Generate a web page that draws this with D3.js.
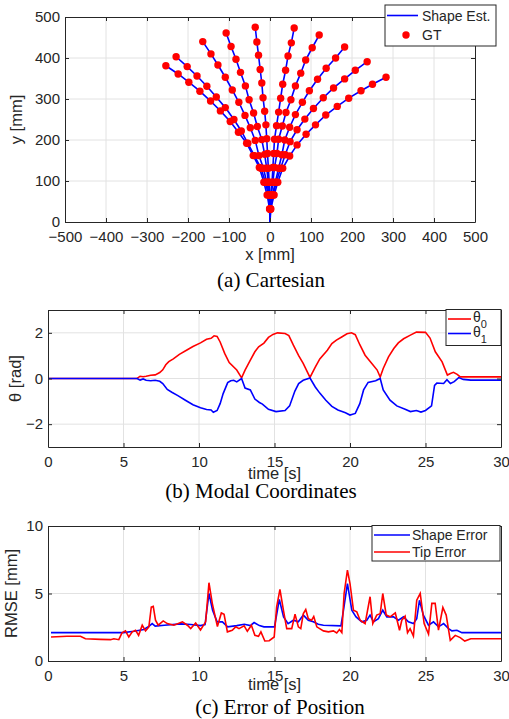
<!DOCTYPE html>
<html>
<head>
<meta charset="utf-8">
<script src="https://cdn.jsdelivr.net/npm/d3@7"></script>
<style>
  body { margin: 0; background: #fff; }
  text { font-family: "Liberation Sans", Arial, sans-serif; fill: #262626; }
  .cap { font-family: "Liberation Serif", "Times New Roman", serif; fill: #000; }
</style>
</head>
<body>
<svg id="fig" width="509" height="719"></svg>
<script>
// ---- (a) Cartesian: GT points per shape, tip first [x mm, y mm]
const base = [0, 0];
const shape1 = [[-254,381],[-224,361],[-198,341],[-171,319],[-145,295],[-121,271],[-97,245],[-77,219],[-57,192],[-41,162],[-26,133],[-15,97],[-7,66],[-1,32]];
const shape2 = [[-229,403],[-202,379],[-178,356],[-154,331],[-131,305],[-109,279],[-88,250],[-70,222],[-54,192],[-38,162],[-22,131],[-11,97],[-4,66],[0,32]];
const shape3 = [[-164,440],[-144,410],[-127,383],[-109,353],[-92,322],[-76,292],[-61,260],[-48,230],[-36,199],[-27,162],[-16,131],[-8,97],[-2,66],[0,32]];
const shape4 = [[-107,461],[-95,428],[-83,397],[-72,365],[-60,332],[-51,298],[-40,266],[-31,233],[-20,201],[-13,165],[-8,131],[-4,97],[-1,66],[0,32]];
const shape5 = [[-36,475],[-32,439],[-28,407],[-24,372],[-20,339],[-17,303],[-13,270],[-10,237],[-8,203],[-6,167],[-4,131],[-2,97],[0,66],[0,32]];
const shape6 = [[59,473],[52,437],[44,405],[38,370],[31,336],[26,302],[21,268],[16,235],[11,202],[9,167],[7,133],[5,97],[2,66],[0,32]];
const shape7 = [[120,456],[103,425],[87,395],[75,363],[62,332],[51,298],[39,267],[30,234],[21,202],[17,167],[11,133],[7,97],[3,66],[0,32]];
const shape8 = [[182,427],[160,400],[137,375],[116,348],[96,320],[79,292],[62,262],[48,231],[36,200],[29,164],[21,131],[13,97],[6,66],[1,32]];
const shape9 = [[237,391],[208,370],[182,349],[155,327],[130,303],[106,277],[85,251],[66,225],[49,196],[37,164],[26,131],[15,97],[8,66],[1,32]];
const shape10 = [[283,353],[250,336],[222,320],[192,302],[164,282],[136,261],[111,237],[88,214],[66,188],[48,161],[31,131],[19,97],[10,66],[2,32]];
const shapes = [shape1, shape2, shape3, shape4, shape5, shape6, shape7, shape8, shape9, shape10];
const cartTicksX = [-500,-400,-300,-200,-100,0,100,200,300,400,500];
const cartTicksY = [0,100,200,300,400,500];

// ---- (b) Modal coordinates [s, rad]
const time0  = [0,5.9,6.1,6.3,6.5,6.8,7.1,7.4,7.6,7.8,8.0,8.3,8.7,9.2,9.6,10.1,10.5,10.8,11.0,11.2,11.4,11.7,12.0,12.5,12.82,13.05,13.4,13.7,13.95,14.3,14.6,14.9,15.2,15.7,15.95,16.25,16.6,16.9,17.35,17.7,18.0,18.5,18.8,19.1,19.45,19.8,20.1,20.35,20.65,21.0,21.35,21.8,22.0,22.2,22.55,22.9,23.2,23.55,24.0,24.4,25.0,25.3,25.65,26.1,26.45,26.65,26.85,27.1,27.3,27.8,30];
const theta0 = [0,0,0.1,0.08,0.1,0.14,0.16,0.26,0.38,0.6,0.74,0.86,1.06,1.25,1.4,1.56,1.72,1.76,1.87,1.84,1.6,1.1,0.7,0.37,0.03,0.37,0.8,1.17,1.39,1.55,1.8,1.93,2.0,1.97,1.88,1.46,1.0,0.66,0.05,0.5,0.86,1.24,1.53,1.68,1.82,1.96,2.0,1.92,1.48,1.02,0.73,0.37,0.06,0.44,0.95,1.31,1.56,1.74,1.9,2.03,2.02,1.77,1.17,0.73,0.15,0.22,0.27,0.18,0.07,0.07,0.07];
const time1  = [0,5.9,6.1,6.3,6.5,6.8,7.1,7.4,7.6,7.9,8.2,8.6,9.1,9.6,10.1,10.5,10.8,10.95,11.2,11.4,11.6,11.9,12.1,12.3,12.5,12.82,13.05,13.4,13.7,14.0,14.2,14.6,15.1,15.7,16.0,16.35,16.6,16.9,17.35,17.7,18.0,18.4,18.8,19.2,19.7,20.0,20.35,20.65,20.9,21.2,21.7,22.0,22.2,22.65,23.1,23.65,24.0,24.4,24.7,25.0,25.4,25.6,25.75,26.2,26.42,26.65,26.9,27.2,27.5,28.0,30];
const theta1 = [0,0,-0.07,-0.02,-0.08,-0.1,-0.08,-0.12,-0.22,-0.48,-0.6,-0.75,-0.95,-1.15,-1.28,-1.36,-1.38,-1.48,-1.4,-1.1,-0.66,-0.18,-0.1,-0.08,-0.15,0,-0.42,-0.5,-0.9,-1.05,-1.12,-1.35,-1.45,-1.4,-1.2,-0.55,-0.22,-0.08,0.02,-0.37,-0.64,-0.95,-1.22,-1.38,-1.5,-1.6,-1.53,-1.1,-0.5,-0.17,-0.1,0,-0.5,-0.95,-1.2,-1.35,-1.45,-1.4,-1.47,-1.4,-1.2,-0.3,-0.2,-0.22,-0.05,-0.22,-0.14,0.04,-0.04,-0.07,-0.07];
const modalTicksX = [0,5,10,15,20,25,30];
const modalTicksY = [-2,0,2];

// ---- (c) Error of position [s, mm]
const timeShape = [0.2,5.0,5.7,6.35,6.7,6.9,7.1,7.7,8.8,9.45,10.1,10.4,10.66,10.9,11.2,11.55,11.9,12.5,13.0,13.4,13.65,14.0,14.3,15.0,15.32,15.6,15.9,16.25,16.58,16.91,17.24,17.57,17.9,18.24,19.4,19.57,19.83,20.12,20.4,20.78,21.11,21.33,21.55,21.88,22.17,22.44,22.88,23.21,23.54,23.87,24.2,24.42,24.6,24.86,25.2,25.53,25.86,26.2,26.53,26.75,27.08,27.41,30];
const shapeErr  = [2.1,2.1,2.2,2.33,2.58,2.77,2.58,2.65,2.75,2.7,2.62,2.7,5.0,3.76,2.9,2.9,2.53,2.62,2.72,2.62,2.85,2.62,2.53,2.53,4.56,3.27,2.77,3.02,2.9,3.4,3.02,2.9,2.72,2.65,2.6,3.76,5.74,3.76,3.27,2.9,3.02,3.4,2.9,3.14,3.76,3.27,3.27,3.02,3.27,2.9,2.77,3.14,4.5,3.4,2.65,2.9,2.53,2.77,2.4,2.23,2.28,2.1,2.1];
const timeTip = [0.2,1.26,2.15,2.48,3.47,4.14,4.36,4.69,4.9,5.13,5.35,5.58,5.8,6.0,6.24,6.46,6.68,6.84,6.97,7.12,7.3,7.63,7.9,8.34,8.9,9.23,9.45,9.78,10.1,10.44,10.66,10.88,11.22,11.48,11.66,11.88,12.2,12.43,12.65,12.99,13.2,13.47,13.7,13.94,14.1,14.36,14.65,14.98,15.14,15.36,15.59,15.81,16.14,16.36,16.58,16.74,16.91,17.07,17.24,17.46,17.6,17.8,18.24,18.57,18.9,19.12,19.3,19.46,19.61,19.83,20.0,20.23,20.45,20.67,21.0,21.33,21.51,21.77,22.0,22.17,22.4,22.66,23.0,23.28,23.43,23.65,23.81,23.98,24.2,24.42,24.65,24.91,25.2,25.42,25.64,25.86,26.15,26.37,26.64,26.97,27.3,27.6,28.0,30];
const tipErr  = [1.78,1.83,1.83,1.65,1.6,1.58,1.65,1.58,2.08,2.23,1.78,2.16,2.28,1.9,2.65,2.23,2.53,4.0,4.05,3.02,2.65,2.97,2.77,2.65,2.9,2.65,2.4,2.82,2.3,2.9,5.8,4.27,2.55,3.56,3.46,2.16,2.28,2.53,2.4,2.6,2.2,2.65,1.9,1.83,2.16,1.48,1.5,1.78,4.0,5.3,3.76,2.4,2.4,3.46,2.53,2.4,3.51,3.81,3.14,3.02,3.3,2.53,2.23,2.16,2.23,2.08,2.33,2.1,5.0,6.73,5.74,3.76,3.64,3.02,2.77,4.76,2.77,3.4,3.51,5.0,3.4,3.27,3.56,2.28,3.02,3.32,2.1,2.4,1.85,4.5,5.0,2.77,2.0,4.27,4.27,2.28,3.96,3.4,1.53,1.9,1.73,1.48,1.65,1.65];
const errTicksX = [0,5,10,15,20,25,30];
const errTicksY = [0,5,10];

const RED = '#ff0000', BLUE = '#0000ff', AX = '#262626', GRID = '#e2e2e2';
const TICK_FS = 15, LABEL_FS = 16.5;
const svg = d3.select('#fig');
svg.append('rect').attr('width', 509).attr('height', 719).attr('fill', '#fff');

function panel(b, x, y, xt, yt) {
  const g = svg.append('g');
  g.append('g').selectAll('line').data(xt.slice(1, -1)).join('line')
    .attr('x1', d => x(d)).attr('x2', d => x(d))
    .attr('y1', b.top).attr('y2', b.bottom).attr('stroke', GRID);
  g.append('g').selectAll('line').data(yt.filter(d => d !== y.domain()[0] && d !== y.domain()[1])).join('line')
    .attr('x1', b.left).attr('x2', b.right)
    .attr('y1', d => y(d)).attr('y2', d => y(d)).attr('stroke', GRID);
  return g;
}

function axes(b, x, y, xt, yt) {
  const fmt = d3.format('d');
  const g = svg.append('g');
  g.append('g').attr('transform', `translate(0,${b.bottom})`)
    .call(d3.axisBottom(x).tickValues(xt).tickFormat(fmt).tickSizeInner(-4).tickSizeOuter(0).tickPadding(9));
  g.append('g').attr('transform', `translate(0,${b.top})`)
    .call(d3.axisTop(x).tickValues(xt).tickFormat('').tickSizeInner(-4).tickSizeOuter(0));
  g.append('g').attr('transform', `translate(${b.left},0)`)
    .call(d3.axisLeft(y).tickValues(yt).tickFormat(fmt).tickSizeInner(-4).tickSizeOuter(0).tickPadding(5));
  g.append('g').attr('transform', `translate(${b.right},0)`)
    .call(d3.axisRight(y).tickValues(yt).tickFormat('').tickSizeInner(-4).tickSizeOuter(0));
  g.selectAll('.domain').attr('stroke', AX);
  g.selectAll('.tick line').attr('stroke', AX);
  g.selectAll('.tick text').attr('font-size', TICK_FS).attr('fill', AX)
    .style('font-family', '"Liberation Sans", Arial, sans-serif');
  return g;
}

function legendBox(x0, y0, w, h) {
  return svg.append('rect').attr('x', x0).attr('y', y0).attr('width', w).attr('height', h)
    .attr('fill', '#fff').attr('stroke', AX).attr('stroke-width', 1);
}

// ============ (a) Cartesian
{
  const b = {left: 65, right: 475, top: 17, bottom: 222};
  const x = d3.scaleLinear().domain([-500, 500]).range([b.left, b.right]);
  const y = d3.scaleLinear().domain([0, 500]).range([b.bottom, b.top]);
  panel(b, x, y, cartTicksX, cartTicksY);
  const line = d3.line().x(d => x(d[0])).y(d => y(d[1]));
  const g = svg.append('g');
  shapes.forEach(s => {
    g.append('path').datum([base, ...s.slice().reverse()]).attr('d', line)
      .attr('fill', 'none').attr('stroke', BLUE).attr('stroke-width', 1.6);
  });
  shapes.forEach(s => {
    g.append('g').selectAll('circle').data(s).join('circle')
      .attr('cx', d => x(d[0])).attr('cy', d => y(d[1])).attr('r', 3.7).attr('fill', RED);
  });
  axes(b, x, y, cartTicksX, cartTicksY);
  svg.append('text').attr('x', (b.left + b.right) / 2).attr('y', 260).attr('text-anchor', 'middle')
    .attr('font-size', LABEL_FS).text('x [mm]');
  svg.append('text').attr('transform', `translate(22,${(b.top + b.bottom) / 2}) rotate(-90)`)
    .attr('text-anchor', 'middle').attr('font-size', LABEL_FS).text('y [mm]');
  legendBox(385, 5, 111, 41);
  svg.append('line').attr('x1', 387).attr('x2', 418).attr('y1', 15.5).attr('y2', 15.5)
    .attr('stroke', BLUE).attr('stroke-width', 1.6);
  svg.append('text').attr('x', 422).attr('y', 20.5).attr('font-size', 14).text('Shape Est.');
  svg.append('circle').attr('cx', 406).attr('cy', 35).attr('r', 3.7).attr('fill', RED);
  svg.append('text').attr('x', 422).attr('y', 40).attr('font-size', 14).text('GT');
  svg.append('text').attr('class', 'cap').attr('x', 271).attr('y', 287).attr('text-anchor', 'middle')
    .attr('font-size', 21).text('(a) Cartesian');
}

// ============ (b) Modal coordinates
{
  const b = {left: 48, right: 501, top: 310, bottom: 447};
  const x = d3.scaleLinear().domain([0, 30]).range([b.left, b.right]);
  const y = d3.scaleLinear().domain([-3, 3]).range([b.bottom, b.top]);
  panel(b, x, y, modalTicksX, modalTicksY);
  const line = d3.line().x(d => x(d[0])).y(d => y(d[1]));
  svg.append('path').datum(d3.zip(time0, theta0)).attr('d', line)
    .attr('fill', 'none').attr('stroke', RED).attr('stroke-width', 1.6);
  svg.append('path').datum(d3.zip(time1, theta1)).attr('d', line)
    .attr('fill', 'none').attr('stroke', BLUE).attr('stroke-width', 1.6);
  axes(b, x, y, modalTicksX, modalTicksY);
  svg.append('text').attr('x', (b.left + b.right) / 2).attr('y', 479).attr('text-anchor', 'middle')
    .attr('font-size', LABEL_FS).text('time [s]');
  svg.append('text').attr('transform', `translate(21,${(b.top + b.bottom) / 2}) rotate(-90)`)
    .attr('text-anchor', 'middle').attr('font-size', LABEL_FS).text('θ [rad]');
  legendBox(446, 309.5, 55, 36);
  [[RED, '0', 319], [BLUE, '1', 333.5]].forEach(([c, s, yy]) => {
    svg.append('line').attr('x1', 448).attr('x2', 471).attr('y1', yy).attr('y2', yy)
      .attr('stroke', c).attr('stroke-width', 1.6);
    const t = svg.append('text').attr('x', 473).attr('y', yy + 3).attr('font-size', 14);
    t.append('tspan').text('θ');
    t.append('tspan').attr('dy', 6).attr('font-size', 11).text(s);
  });
  svg.append('text').attr('class', 'cap').attr('x', 261).attr('y', 498).attr('text-anchor', 'middle')
    .attr('font-size', 21).text('(b) Modal Coordinates');
}

// ============ (c) Error of position
{
  const b = {left: 48, right: 501, top: 526, bottom: 661};
  const x = d3.scaleLinear().domain([0, 30]).range([b.left, b.right]);
  const y = d3.scaleLinear().domain([0, 10]).range([b.bottom, b.top]);
  panel(b, x, y, errTicksX, errTicksY);
  const line = d3.line().x(d => x(d[0])).y(d => y(d[1]));
  svg.append('path').datum(d3.zip(timeShape, shapeErr)).attr('d', line)
    .attr('fill', 'none').attr('stroke', BLUE).attr('stroke-width', 1.6);
  svg.append('path').datum(d3.zip(timeTip, tipErr)).attr('d', line)
    .attr('fill', 'none').attr('stroke', RED).attr('stroke-width', 1.6);
  axes(b, x, y, errTicksX, errTicksY);
  svg.append('text').attr('x', (b.left + b.right) / 2).attr('y', 690).attr('text-anchor', 'middle')
    .attr('font-size', LABEL_FS).text('time [s]');
  svg.append('text').attr('transform', `translate(17,${(b.top + b.bottom) / 2}) rotate(-90)`)
    .attr('text-anchor', 'middle').attr('font-size', LABEL_FS).text('RMSE [mm]');
  legendBox(372, 525.5, 128, 35.5);
  [[BLUE, 'Shape Error', 535], [RED, 'Tip Error', 552]].forEach(([c, s, yy]) => {
    svg.append('line').attr('x1', 374).attr('x2', 410).attr('y1', yy).attr('y2', yy)
      .attr('stroke', c).attr('stroke-width', 1.6);
    svg.append('text').attr('x', 412).attr('y', yy + 5).attr('font-size', 14).text(s);
  });
  svg.append('text').attr('class', 'cap').attr('x', 280).attr('y', 714).attr('text-anchor', 'middle')
    .attr('font-size', 21).text('(c) Error of Position');
}
</script>
</body>
</html>
